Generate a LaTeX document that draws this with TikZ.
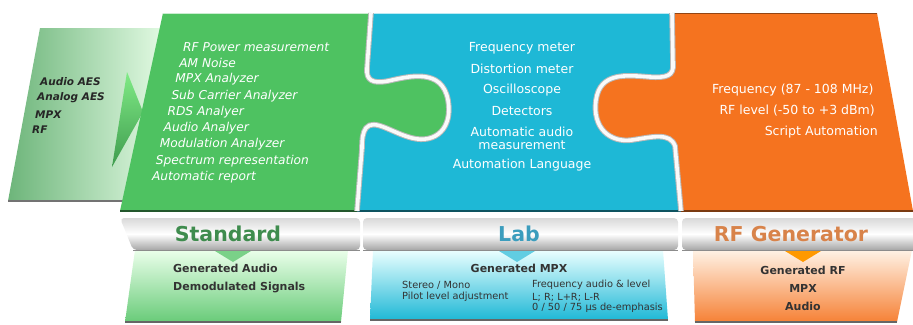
\documentclass[tikz,border=0pt]{standalone}
\usepackage{fontspec}
\setmainfont{DejaVu Sans}
\definecolor{stdgreen}{HTML}{4EC261}
\definecolor{labblue}{HTML}{1EB8D6}
\definecolor{rforange}{HTML}{F5731F}
\definecolor{stdtext}{HTML}{3F8C4E}
\definecolor{labtext}{HTML}{3C9DBD}
\definecolor{rftext}{HTML}{D8834A}
\definecolor{intext}{HTML}{6DB57A}
\begin{document}
\begin{tikzpicture}[x=1pt, y=-1pt, inner sep=0pt,
  seam/.style={draw=gray!55, line width=1pt, double=white!96!gray, double distance=3.6pt},
  bar/.style={rounded corners=4pt, top color=gray!30, bottom color=gray!70, middle color=white},
  bartext/.style={font=\fontsize{20.5}{22}\bfseries},
  listtext/.style={text=white, font=\fontsize{12.2}{14}\selectfont\itshape, anchor=west},
  labtxt/.style={text=white, font=\fontsize{12.5}{13}\selectfont, align=center},
  rftxt/.style={text=white, font=\fontsize{12.5}{13}\selectfont, anchor=east},
  intxt/.style={font=\fontsize{10.5}{12}\selectfont\bfseries\itshape, text=black!85, anchor=west},
  outtext/.style={text=black!80, font=\fontsize{11}{18}\selectfont\bfseries},
  smalltext/.style={text=black!80, font=\fontsize{9.8}{10}\selectfont, anchor=west},
  edge/.style={line width=1.5pt}]
\useasboundingbox (0,0) rectangle (913,324);
\def\seamA{(371,13) -- (367,68) .. controls (366,80) and (372,84) .. (388,81) .. controls (410,76) and (442,68) .. (448,100) .. controls (453,128) and (436,144) .. (412,138) .. controls (392,133) and (374,118) .. (366,128) .. controls (363,132) and (362,138) .. (362,148) -- (357,211)}
\def\seamB{(672,13) -- (673,64) .. controls (674,76) and (666,78) .. (650,77) .. controls (626,75) and (600,72) .. (596,100) .. controls (592,128) and (610,143) .. (632,140) .. controls (652,137) and (670,132) .. (675,146) -- (681,211)}
% input panel
\shade[left color=intext, right color=white!92!green] (40,28) -- (175,28) -- (150,201) -- (8,201) -- cycle;
\draw[edge, black!55] (8,201) -- (150,201);
\node[intxt] (in-1) at (40,82) {Audio AES};
\node[intxt] (in-2) at (37,98) {Analog AES};
\node[intxt] (in-3) at (35,115) {MPX};
\node[intxt] (in-4) at (32,130) {RF};
\shade[top color=green!45!stdgreen!60, bottom color=stdgreen!80!black] (127,72) -- (143,112) -- (112,167) -- cycle;
% puzzle pieces
\fill[labblue] (355,13) -- (680,13) -- (686,211) -- (350,211) -- cycle;
\fill[stdgreen] (163,13) -- \seamA -- (120,211) -- cycle;
\fill[rforange] (877,13) -- \seamB -- (913,211) -- cycle;
\draw[edge, stdgreen!45!black] (120,211) -- (357,211);
\draw[edge, labblue!45!black] (357,211) -- (681,211);
\draw[edge, rforange!50!black] (681,211) -- (913,211);
\draw[line width=1pt, white!70!stdgreen] (163,13.5) -- (371,13.5);
\draw[line width=1pt, white!70!labblue] (371,13.5) -- (672,13.5);
\draw[line width=1pt, rforange!60!black] (672,13.5) -- (877,13.5);
\draw[seam] \seamA;
\draw[seam] \seamB;
% standard list
\foreach \t [count=\i] in {RF Power measurement, AM Noise, MPX Analyzer, Sub Carrier Analyzer, RDS Analyer, Audio Analyer, Modulation Analyzer, Spectrum representation, Automatic report}
  \node[listtext] (std-\i) at ({183-3.9*(\i-1)}, {47+16.25*(\i-1)}) {\t};
% lab list
\node[labtxt] (lab-1) at (522,48) {Frequency meter};
\node[labtxt] (lab-2) at (522,69) {Distortion meter};
\node[labtxt] (lab-3) at (522,90) {Oscilloscope};
\node[labtxt] (lab-4) at (522,111) {Detectors};
\node[labtxt] (lab-5) at (522,138.5) {Automatic audio\\measurement};
\node[labtxt] (lab-6) at (522,165) {Automation Language};
% rf list
\node[rftxt, anchor=west] (rf-1) at (712,90) {Frequency (87 - 108 MHz)};
\node[rftxt] (rf-2) at (875,111) {RF level (-50 to +3 dBm)};
\node[rftxt] (rf-3) at (878,132) {Script Automation};
% output panels
\shade[top color=green!8, bottom color=stdgreen!85] (135,250) -- (348,250) -- (341,322) -- (125,322) -- cycle;
\shade[top color=cyan!8, bottom color=labblue] (373,250) -- (663,250) -- (668,320) -- (370,320) -- cycle;
\shade[top color=orange!10, bottom color=rforange!90] (693,250) -- (912,250) -- (897,322) -- (695,322) -- cycle;
\draw[edge, black!60] (125,322) -- (341,322);
\draw[edge, black!60] (370,320) -- (668,320);
\draw[edge, black!60] (695,322) -- (897,322);
% label bars
\shade[bar] (120,218) -- (360,218) -- (360,250) -- (133,250) -- cycle;
\shade[bar] (363,218) -- (678,218) -- (678,250) -- (363,250) -- cycle;
\shade[bar] (682,218) -- (920,218) -- (920,250) -- (682,250) -- cycle;
\draw[line width=1pt, black!45] (133,250) -- (360,250) (363,250) -- (678,250) (682,250) -- (913,250);
\node[bartext, text=stdtext] (std-label) at (228,234) {Standard};
\node[bartext, text=labtext] (lab-label) at (519,234) {Lab};
\node[bartext, text=rftext] (rf-label) at (791,234) {RF Generator};
\fill[stdgreen!75!white] (215,251) -- (251,251) -- (233,262) -- cycle;
\fill[labblue!70!white] (499,251) -- (535,251) -- (517,262) -- cycle;
\fill[orange!80!yellow] (785,251) -- (821,251) -- (803,262) -- cycle;
% outputs
\node[outtext, anchor=west, align=left] (std-out) at (173,279) {Generated Audio\\Demodulated Signals};
\node[outtext, anchor=center] (lab-out) at (519,268) {Generated MPX};
\node[smalltext] (lab-o1) at (402,285) {Stereo / Mono};
\node[smalltext] (lab-o2) at (402,297) {Pilot level adjustment};
\node[smalltext] (lab-o3) at (532,285) {Frequency audio \& level};
\node[smalltext] (lab-o4) at (532,297) {L; R; L+R; L-R};
\node[smalltext] (lab-o5) at (532,308) {0 / 50 / 75 µs de-emphasis};
\node[outtext, align=center] (rf-out) at (803,288.5) {Generated RF\\MPX\\Audio};
\end{tikzpicture}
\end{document}
